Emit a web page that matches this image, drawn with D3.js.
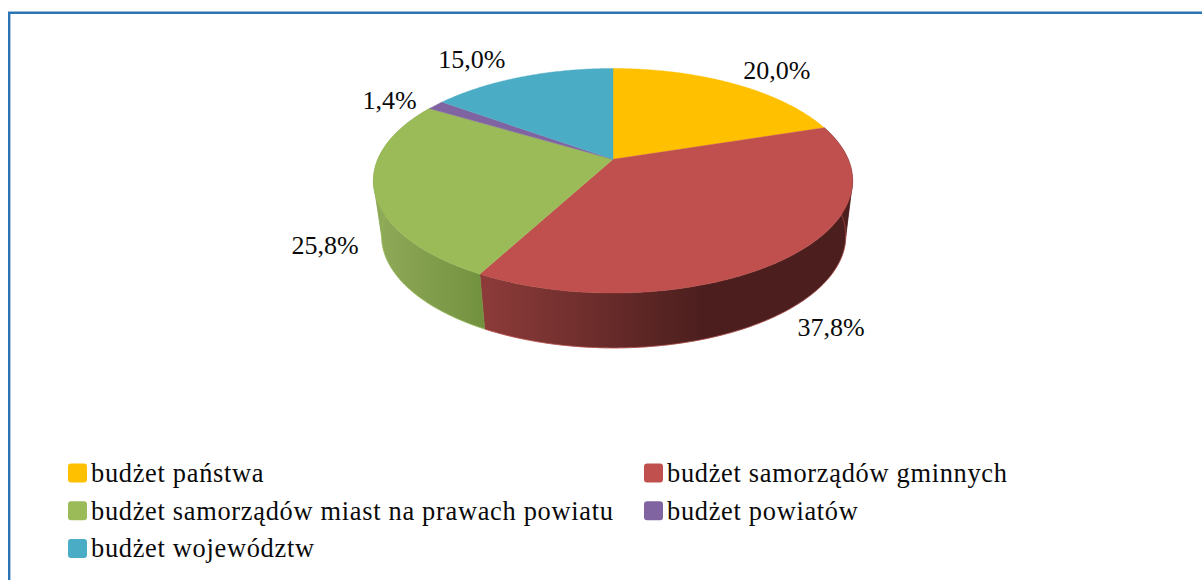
<!DOCTYPE html>
<html><head><meta charset="utf-8">
<script src="https://cdn.jsdelivr.net/npm/d3@7/dist/d3.min.js"></script>
<style>html,body{margin:0;padding:0;background:#fff}svg{display:block}text{font-family:"Liberation Serif",serif;fill:#0a0a0a}</style>
</head><body><svg id="c" width="1202" height="580"></svg>
<script>
const categories = ["budżet państwa","budżet samorządów gminnych","budżet samorządów miast na prawach powiatu","budżet powiatów","budżet województw"];
const values = [20.0,37.8,25.8,1.4,15.0];
const colors = ["#ffc000","#c0504d","#9bbb59","#8064a2","#4bacc6"];
const sideLeft = {1:"#8c3b39",2:"#8ea957"};
const sideRight = {1:"#4c1f1e",2:"#72913f"};

const svg = d3.select("#c");
const color = d3.scaleOrdinal(categories, colors);
const fmt = v => d3.format(".1f")(v).replace(".", ",") + "%";

// frame
svg.append("path").attr("d","M9.2 580V12.8H1202").attr("fill","none").attr("stroke","#2e75b6").attr("stroke-width",2.4);

// perspective projection of the pie disc
const k = 0.191;
const top_ = {cx:613, cy:159.3, A:235.2, B:108.2};
const bot_ = {cx:613.7, cy:214.4, A:227.8, B:108};
const proj = (p,a) => {
  const x = Math.sin(a), y = -Math.cos(a), d = 1 - k*y;
  return [p.cx + p.A*x/d, p.cy + p.B*y/d];
};
const angles = (a0,a1) => {
  const n = Math.max(2, Math.ceil((a1-a0)/0.01));
  return d3.range(n+1).map(i => a0 + (a1-a0)*i/n);
};
const line = d3.line();
const pie = d3.pie().sort(null).value(d=>d)(values);
const defs = svg.append("defs");

// side walls; split where the rim turns back so the fold is filled
pie.forEach((s,i)=>{
  if(!(i in sideLeft)) return;
  const as = angles(s.startAngle, s.endAngle);
  const xs = as.map(a=>proj(bot_,a)[0]);
  const id = "g"+i;
  const g = defs.append("linearGradient").attr("id",id).attr("gradientUnits","userSpaceOnUse")
    .attr("x1",d3.min(xs)).attr("x2",d3.max(xs)).attr("y1",0).attr("y2",0);
  const stops = i===1 ? [[0,sideLeft[i]],[0.6,sideRight[i]],[1,sideRight[i]]] : [[0,sideLeft[i]],[1,sideRight[i]]];
  stops.forEach(([o,c])=>g.append("stop").attr("offset",o).attr("stop-color",c));
  const topXs = as.map(a=>proj(top_,a)[0]);
  const cuts = [...new Set([0, d3.minIndex(topXs), d3.maxIndex(topXs), as.length-1])].sort((a,b)=>a-b);
  d3.pairs(cuts).forEach(([u,v])=>{
    const part = as.slice(u,v+1);
    const pts = part.map(a=>proj(top_,a)).concat(part.slice().reverse().map(a=>proj(bot_,a)));
    svg.append("path").attr("d",line(pts)+"Z").attr("fill",`url(#${id})`)
      .attr("stroke",`url(#${id})`).attr("stroke-width",0.5);
  });
  svg.append("path").attr("d",line(as.map(a=>proj(bot_,a)))).attr("fill","none")
    .attr("stroke",color(categories[i])).attr("stroke-width",0.9).attr("stroke-opacity",0.7);
});

// top faces
pie.forEach((s,i)=>{
  const pts = [[top_.cx,top_.cy]].concat(angles(s.startAngle, s.endAngle).map(a=>proj(top_,a)));
  svg.append("path").attr("d",line(pts)+"Z").attr("fill",color(categories[i]))
    .attr("stroke",color(categories[i])).attr("stroke-width",0.4);
});

// data labels, placed from each slice's mid-angle
const labelOffsets = [[44,-13],[41,71],[-49,55.5],[-46,-5.5],[-50,-18]];
pie.forEach((s,i)=>{
  const [x,y] = proj(top_, (s.startAngle+s.endAngle)/2);
  svg.append("text").attr("x",x+labelOffsets[i][0]).attr("y",y+labelOffsets[i][1]+9)
    .attr("text-anchor","middle").attr("font-size",26).text(fmt(values[i]));
});

// legend
const legendX = d3.scalePoint().domain([0,1]).range([68,644]);
const legendY = d3.scalePoint().domain([0,1,2]).range([463.5,539]);
categories.forEach((c,i)=>{
  const col = i%2, row = Math.floor(i/2);
  const g = svg.append("g").attr("transform",`translate(${legendX(col)},${legendY(row)})`);
  g.append("rect").attr("width",19).attr("height",19).attr("rx",3).attr("fill",color(c));
  g.append("text").attr("x",23).attr("y",18.3).attr("font-size",26.4).attr("letter-spacing",0.7).text(c);
});
</script></body></html>
